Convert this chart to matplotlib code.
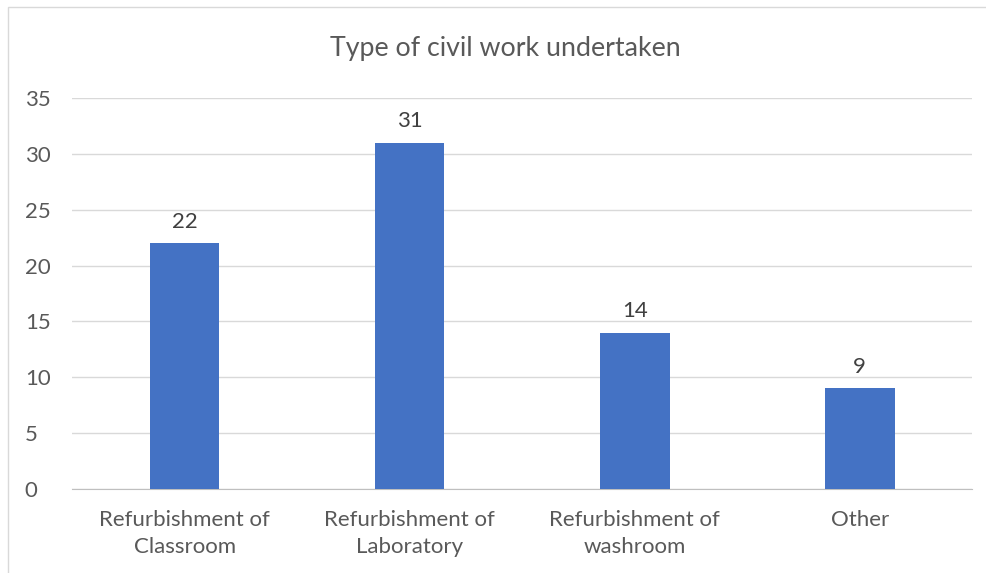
import matplotlib
matplotlib.use("Agg")
import matplotlib.pyplot as plt
from matplotlib.patches import Rectangle

categories = ["Refurbishment of\nClassroom", "Refurbishment of\nLaboratory",
              "Refurbishment of\nwashroom", "Other"]
counts = [22, 31, 14, 9]

plt.rcParams["font.family"] = ["Lato", "DejaVu Sans"]

fig = plt.figure(figsize=(9.87, 5.73), dpi=100)
ax = fig.add_axes([0.073, 0.1466, 0.912, 0.6824])

x = range(len(categories))
ax.bar(x, counts, width=0.31, color="#4472C4", zorder=3)
for xi, v in zip(x, counts):
    ax.text(xi, v + 1.0, str(v), ha="center", va="bottom", fontsize=16, color="#404040")

ax.set_xlim(-0.5, 3.5)
ax.set_ylim(0, 35)
ax.set_yticks(range(0, 36, 5))
ax.set_xticks(list(x))
ax.set_xticklabels(categories, fontsize=16, color="#595959", linespacing=1.42)
ax.tick_params(axis="y", labelsize=16, labelcolor="#595959", length=0, pad=34)
ax.tick_params(axis="x", length=0, pad=15)
for lbl in ax.get_yticklabels():
    lbl.set_horizontalalignment("left")
ax.grid(axis="y", color="#D9D9D9", linewidth=1, zorder=0)
for s in ["top", "right", "left"]:
    ax.spines[s].set_visible(False)
ax.spines["bottom"].set_color("#BFBFBF")

fig.text(0.512, 0.916, "Type of civil work undertaken", ha="center", va="center",
         fontsize=19.3, color="#595959")

fig.patches.append(Rectangle((0.008, -0.01), 1.1, 0.997, transform=fig.transFigure,
                             fill=False, edgecolor="#D9D9D9", linewidth=1))

fig.savefig("out.png", dpi=100)
